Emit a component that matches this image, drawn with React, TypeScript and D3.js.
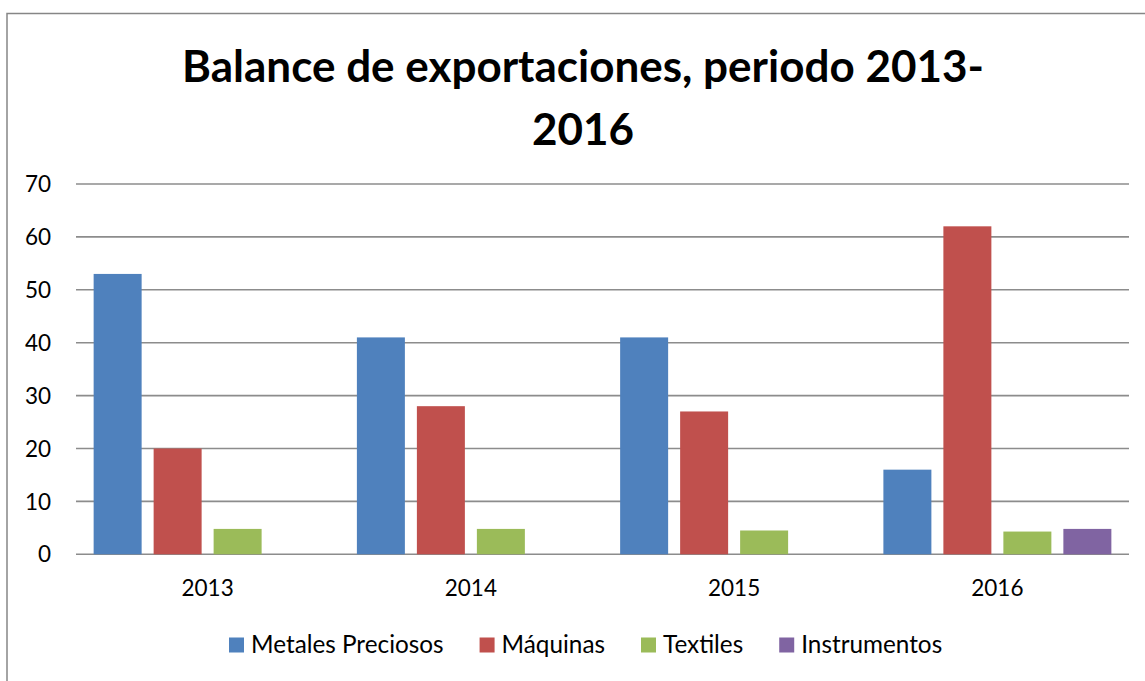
import React, { useRef, useEffect } from "react";
import * as d3 from "d3";

const years = ["2013", "2014", "2015", "2016"];
const seriesNames = ["Metales Preciosos", "Máquinas", "Textiles", "Instrumentos"];
const metales = [53, 41, 41, 16];
const maquinas = [20, 28, 27, 62];
const textiles = [4.8, 4.8, 4.5, 4.3];
const instrumentos: (number | null)[] = [null, null, null, 4.8];
const seriesColors = ["#4F81BD", "#C0504D", "#9BBB59", "#8064A2"];
const yTicks = [0, 10, 20, 30, 40, 50, 60, 70];
const titleLines = ["Balance de exportaciones, periodo 2013-", "2016"];

const FONT = "Lato, 'Open Sans', sans-serif";

const App = () => {
  const svgRef = useRef<SVGSVGElement>(null);

  useEffect(() => {
    const W = 1145;
    const H = 681;
    const plot = { left: 76, right: 1129, top: 184, bottom: 554.3 };

    const svg = d3.select(svgRef.current);
    svg.selectAll("*").remove();
    svg.attr("width", W).attr("height", H);

    // chart frame (right/bottom edges fall outside the picture)
    svg
      .append("rect")
      .attr("x", 7)
      .attr("y", 13.5)
      .attr("width", W + 20)
      .attr("height", H + 20)
      .attr("fill", "#fff")
      .attr("stroke", "#868686")
      .attr("stroke-width", 1.5);

    // title
    const title = svg
      .append("text")
      .attr("text-anchor", "middle")
      .attr("font-family", FONT)
      .attr("font-weight", "bold")
      .attr("font-size", 44)
      .attr("fill", "#000");
    titleLines.forEach((line, i) => {
      title
        .append("tspan")
        .attr("x", 583)
        .attr("y", 82 + i * 63)
        .text(line);
    });

    const y = d3.scaleLinear().domain([0, 70]).range([plot.bottom, plot.top]);
    const x0 = d3.scaleBand().domain(years).range([plot.left, plot.right]);
    const x1 = d3
      .scaleBand()
      .domain(seriesNames)
      .range([0, x0.bandwidth()])
      .paddingInner(0.2)
      .paddingOuter(0.294);

    // gridlines
    svg
      .append("g")
      .selectAll("line")
      .data(yTicks)
      .enter()
      .append("line")
      .attr("x1", plot.left)
      .attr("x2", plot.right)
      .attr("y1", (d) => y(d))
      .attr("y2", (d) => y(d))
      .attr("stroke", "#8c8c8c")
      .attr("stroke-width", 1.6);

    // y tick labels
    svg
      .append("g")
      .selectAll("text")
      .data(yTicks)
      .enter()
      .append("text")
      .attr("x", 51)
      .attr("y", (d) => y(d))
      .attr("dy", "0.36em")
      .attr("text-anchor", "end")
      .attr("font-family", FONT)
      .attr("font-size", 22.5)
      .attr("fill", "#000")
      .text((d) => d);

    // bars
    const series = [metales, maquinas, textiles, instrumentos];
    const rows = years.flatMap((yr, i) =>
      seriesNames.map((name, s) => ({ yr, name, s, value: series[s][i] }))
    );
    svg
      .append("g")
      .selectAll("rect")
      .data(rows.filter((d) => d.value != null))
      .enter()
      .append("rect")
      .attr("x", (d) => (x0(d.yr) as number) + (x1(d.name) as number))
      .attr("y", (d) => y(d.value as number))
      .attr("width", x1.bandwidth())
      .attr("height", (d) => plot.bottom - y(d.value as number))
      .attr("fill", (d) => seriesColors[d.s]);

    // x labels
    svg
      .append("g")
      .selectAll("text")
      .data(years)
      .enter()
      .append("text")
      .attr("x", (d) => (x0(d) as number) + x0.bandwidth() / 2)
      .attr("y", 596)
      .attr("text-anchor", "middle")
      .attr("font-family", FONT)
      .attr("font-size", 22.5)
      .attr("fill", "#000")
      .text((d) => d);

    // legend
    const legend = svg.append("g");
    let lx = 229;
    seriesNames.forEach((name, i) => {
      legend
        .append("rect")
        .attr("x", lx)
        .attr("y", 637.5)
        .attr("width", 15)
        .attr("height", 15)
        .attr("fill", seriesColors[i]);
      const t = legend
        .append("text")
        .attr("x", lx + 22)
        .attr("y", 653)
        .attr("font-family", FONT)
        .attr("font-size", 24.3)
        .attr("fill", "#000")
        .text(name);
      const w = (t.node() as SVGTextElement).getComputedTextLength();
      lx += 22 + w + 36;
    });
  }, []);

  return (
    <svg
      ref={svgRef}
      style={{ position: "absolute", left: 0, top: 0, display: "block" }}
    ></svg>
  );
};

export default App;
